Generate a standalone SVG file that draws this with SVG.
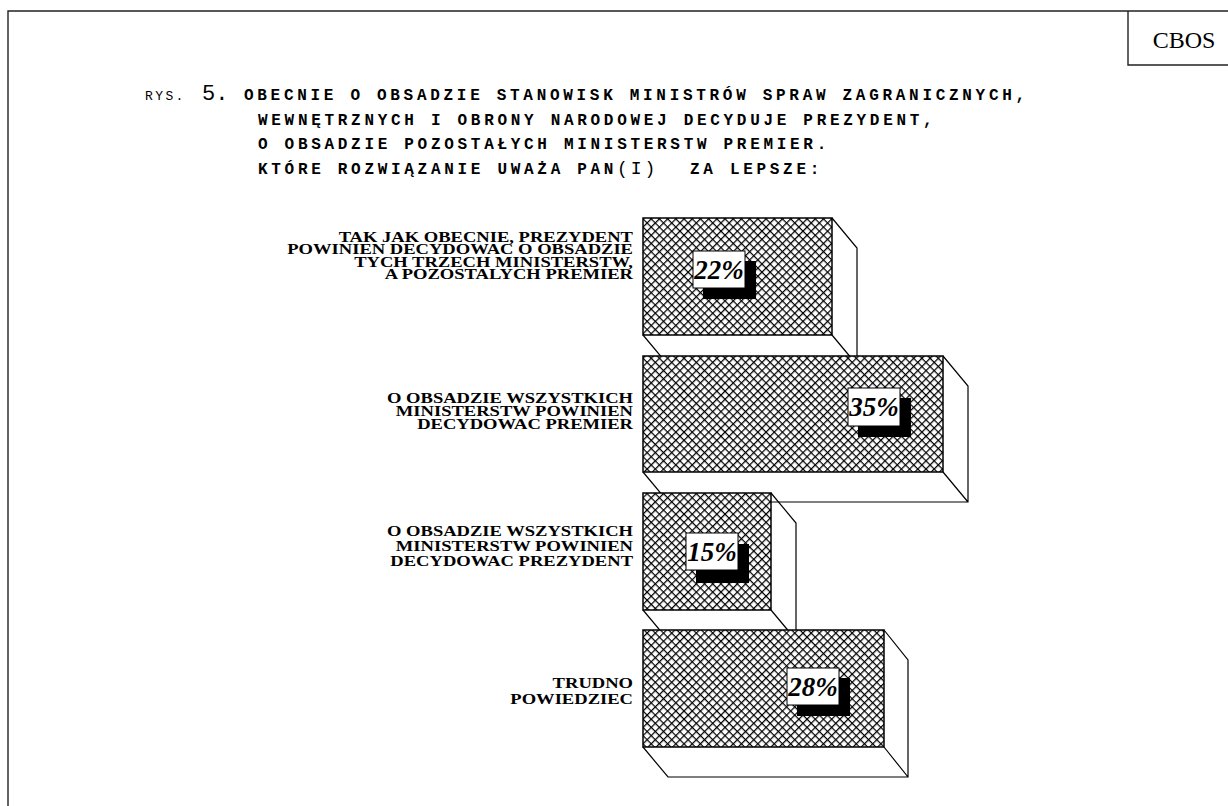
<svg xmlns="http://www.w3.org/2000/svg" width="1228" height="806" viewBox="0 0 1228 806">
<style>
.frame{fill:none;stroke:#222;stroke-width:1.4}
.ttl{font-family:"Liberation Mono","Courier New",monospace;font-weight:bold;font-size:16px;letter-spacing:3.7px;fill:#000}
.rys{font-family:"Liberation Mono","Courier New",monospace;font-size:13px;letter-spacing:2.4px;fill:#000}
.num{font-family:"Liberation Mono","Courier New",monospace;font-size:22px;fill:#000}
.par{font-family:"Liberation Mono","Courier New",monospace;font-size:18px;letter-spacing:3px;fill:#000}
.cbos{font-family:"Liberation Serif","Times New Roman",serif;font-size:24px;fill:#000}
.lbl{font-family:"Liberation Serif","Times New Roman",serif;font-weight:bold;font-size:14.5px;fill:#000;text-anchor:end}
.bar{fill:url(#xh);stroke:#000;stroke-width:1.5}
.edge{fill:none;stroke:#000;stroke-width:1.2}
.box{fill:#fff;stroke:#000;stroke-width:1}
.shd{fill:#000}
.pct{font-family:"Liberation Serif","Times New Roman",serif;font-weight:bold;font-style:italic;font-size:27px;fill:#000;text-anchor:middle}
</style>
<defs>
<pattern id="xh" patternUnits="userSpaceOnUse" width="5.8" height="5.8" patternTransform="translate(643 218) rotate(45)">
<rect width="5.8" height="5.8" fill="#fff"/>
<path d="M0 0.6H5.8M0.6 0V5.8" stroke="#000" stroke-width="1.3"/>
</pattern>
</defs>
<rect width="1228" height="806" fill="#fff"/>
<g id="frame">
<path class="frame" d="M8 806V11H1228"/>
<path class="frame" d="M1128 11V65H1228"/>
<text class="cbos" x="1184" y="48" text-anchor="middle">CBOS</text>
</g>
<g id="title">
<text class="rys" x="145" y="100">RYS.</text>
<text class="num" x="202" y="100">5.</text>
<text class="ttl" x="244" y="100">OBECNIE O OBSADZIE STANOWISK MINISTRÓW SPRAW ZAGRANICZNYCH,</text>
<text class="ttl" x="258" y="124.5">WEWNĘTRZNYCH I OBRONY NARODOWEJ DECYDUJE PREZYDENT,</text>
<text class="ttl" x="258" y="149">O OBSADZIE POZOSTAŁYCH MINISTERSTW PREMIER.</text>
<text class="ttl" x="258" y="173.5">KTÓRE ROZWIĄZANIE UWAŻA PAN</text>
<text class="par" x="617" y="174">(I)</text>
<text class="ttl" x="690" y="173.5">ZA LEPSZE:</text>
</g>
<g id="labels" transform="translate(633 0) scale(1.28 1)">
<g id="label1">
<text class="lbl" x="0" y="242">TAK JAK OBECNIE, PREZYDENT</text>
<text class="lbl" x="0" y="254.5">POWINIEN DECYDOWAC O OBSADZIE</text>
<text class="lbl" x="0" y="267">TYCH TRZECH MINISTERSTW,</text>
<text class="lbl" x="0" y="279.5">A POZOSTALYCH PREMIER</text>
</g>
<g id="label2">
<text class="lbl" x="0" y="403">O OBSADZIE WSZYSTKICH</text>
<text class="lbl" x="0" y="416">MINISTERSTW POWINIEN</text>
<text class="lbl" x="0" y="429">DECYDOWAC PREMIER</text>
</g>
<g id="label3">
<text class="lbl" x="0" y="536">O OBSADZIE WSZYSTKICH</text>
<text class="lbl" x="0" y="551">MINISTERSTW POWINIEN</text>
<text class="lbl" x="0" y="566">DECYDOWAC PREZYDENT</text>
</g>
<g id="label4">
<text class="lbl" x="0" y="688">TRUDNO</text>
<text class="lbl" x="0" y="704">POWIEDZIEC</text>
</g>
</g>
<g id="bar1">
<path class="edge" d="M832 218L857 248V365H668L643 335M832 335L857 365"/>
<rect class="bar" x="643" y="218" width="189" height="117"/>
<rect class="shd" x="703" y="261" width="53" height="38"/>
<rect class="box" x="693" y="251" width="52" height="37"/>
<text class="pct" x="719" y="279">22%</text>
</g>
<g id="bar2">
<path class="edge" d="M943 356L968 386V502H668L643 472M943 472L968 502"/>
<rect class="bar" x="643" y="356" width="300" height="116"/>
<rect class="shd" x="858" y="398" width="53" height="39"/>
<rect class="box" x="848" y="388" width="52" height="38"/>
<text class="pct" x="874" y="416">35%</text>
</g>
<g id="bar3">
<path class="edge" d="M771 493L796 523V640H668L643 610M771 610L796 640"/>
<rect class="bar" x="643" y="493" width="128" height="117"/>
<rect class="shd" x="696" y="544" width="53" height="39"/>
<rect class="box" x="686" y="533" width="52" height="37"/>
<text class="pct" x="712" y="561">15%</text>
</g>
<g id="bar4">
<path class="edge" d="M884 630L908 660V777H668L643 747M884 747L908 777"/>
<rect class="bar" x="643" y="630" width="241" height="117"/>
<rect class="shd" x="797" y="678" width="53" height="38"/>
<rect class="box" x="787" y="668" width="52" height="37"/>
<text class="pct" x="813" y="696">28%</text>
</g>
</svg>
